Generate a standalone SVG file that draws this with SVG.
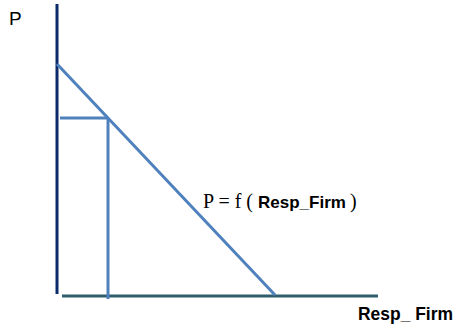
<svg xmlns="http://www.w3.org/2000/svg" width="456" height="326" viewBox="0 0 456 326">
<style>
.ax{stroke-width:3;fill:none;stroke-linecap:butt}
.dm{stroke:#4f81bd;stroke-width:3;fill:none}
.serif{font-family:"Liberation Serif","Times New Roman",serif;font-size:20px;font-weight:normal}
.bold{font-family:"Liberation Sans",Arial,sans-serif;font-weight:bold}
</style>
<rect width="456" height="326" fill="#fff"/>
<g id="connectors">
<line class="ax" x1="57" y1="4" x2="57" y2="294" stroke="#0b2a6b"/>
<line class="ax" x1="62" y1="296" x2="378" y2="296" stroke="#2e5e6c"/>
<line class="dm" x1="57" y1="64" x2="275" y2="295"/>
<line class="dm" x1="60" y1="118" x2="107" y2="118"/>
<line class="dm" x1="108" y1="118" x2="108" y2="299"/>
</g>
<g id="label-P"><text x="9" y="25" font-family="Liberation Sans,Arial,sans-serif" font-size="19" fill="#000">P</text></g>
<g id="label-formula">
<text y="208" fill="#000"><tspan class="serif" x="203">P = f (</tspan><tspan class="bold" x="258" font-size="17">Resp_Firm</tspan><tspan class="serif" x="350">)</tspan></text>
</g>
<g id="label-x"><text class="bold" x="358" y="320" font-size="18" fill="#000" textLength="95" lengthAdjust="spacingAndGlyphs">Resp_ Firm</text></g>
</svg>
